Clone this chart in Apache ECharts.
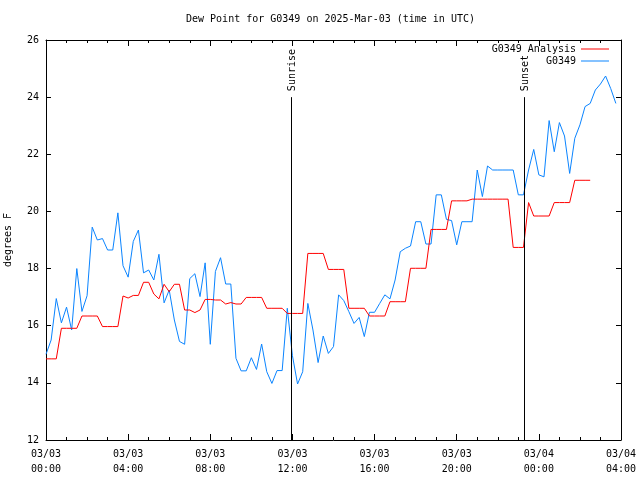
<!DOCTYPE html>
<html>
<head>
<meta charset="utf-8">
<script src="https://cdn.jsdelivr.net/npm/echarts@6/dist/echarts.min.js"></script>
<style>html,body{margin:0;padding:0;background:#fff;}#chart{width:640px;height:480px;}</style>
</head>
<body>
<div id="chart"></div>
<script>
// Time axis: hours since 2025-03-03 00:00 UTC
const xTickLabels = ['03/03\n00:00','03/03\n04:00','03/03\n08:00','03/03\n12:00','03/03\n16:00','03/03\n20:00','03/04\n00:00','03/04\n04:00'];
const sampleStepHours = 0.25;

// G0349 observations (deg F), every 15 minutes from 00:00
const obsValues = [
 15.0,15.5,16.95,16.1,16.65,15.85,18.0,16.5,
 17.05,19.45,19.0,19.05,18.65,18.65,19.95,18.1,
 17.7,18.95,19.35,17.85,17.95,17.6,18.5,16.8,
 17.25,16.2,15.45,15.35,17.65,17.82,17.02,18.2,
 15.35,17.9,18.38,17.46,17.46,14.86,14.42,14.42,
 14.88,14.47,15.36,14.39,13.98,14.43,14.43,16.61,
 14.95,13.96,14.39,16.78,15.85,14.71,15.64,15.03,
 15.27,17.08,16.88,16.49,16.08,16.29,15.62,16.47,
 16.47,16.78,17.08,16.94,17.6,18.59,18.71,18.79,
 19.64,19.64,18.86,18.86,20.58,20.58,19.72,19.68,
 18.83,19.64,19.64,19.64,21.45,20.52,21.59,21.45,
 21.45,21.45,21.45,21.45,20.58,20.58,21.45,22.17,
 21.28,21.21,23.18,22.09,23.11,22.64,21.33,22.56,
 23.03,23.67,23.78,24.25,24.46,24.74,24.3,23.78
];

// G0349 Analysis (deg F), every 15 minutes from 00:00
const analysisValues = [
 14.84,14.84,14.84,15.91,15.91,15.91,15.91,16.34,
 16.34,16.34,16.34,15.97,15.97,15.97,15.97,17.04,
 16.97,17.06,17.06,17.52,17.52,17.11,16.94,17.45,
 17.19,17.45,17.45,16.55,16.55,16.46,16.55,16.92,
 16.92,16.9,16.9,16.76,16.81,16.76,16.76,16.99,
 16.99,16.99,16.99,16.61,16.61,16.61,16.61,16.43,
 16.43,16.43,16.43,18.53,18.53,18.53,18.53,17.97,
 17.97,17.97,17.97,16.61,16.61,16.61,16.61,16.34,
 16.34,16.34,16.34,16.84,16.84,16.84,16.84,18.01,
 18.01,18.01,18.01,19.37,19.37,19.37,19.37,20.37,
 20.37,20.37,20.37,20.43,20.43,20.43,20.43,20.43,
 20.43,20.43,20.43,18.74,18.74,18.74,20.31,19.84,
 19.84,19.84,19.84,20.31,20.31,20.31,20.31,21.09,
 21.09,21.09,21.09
];

// Sun events (hours since 03/03 00:00 UTC)
const sunEventHours = [11.95, 23.29];
const sunEventNames = ['Sunrise', 'Sunset'];
const sunLineTop = 24;

const FONT = 'DejaVu Sans Mono';

function toPairs(vals){ return vals.map((v,i)=>[i*sampleStepHours, v]); }

const chart = echarts.init(document.getElementById('chart'), null, {renderer:'canvas'});

const xCommon = {
  type:'value', min:0, max:28, interval:4,
  axisLine:{show:true, onZero:false, lineStyle:{color:'#000', width:1}},
  axisTick:{show:true, inside:true, length:6, lineStyle:{color:'#000'}},
  minorTick:{show:true, splitNumber:4, length:3, lineStyle:{color:'#000'}},
  splitLine:{show:false}, minorSplitLine:{show:false}
};
const yCommon = {
  type:'value', min:12, max:26, interval:2,
  axisLine:{show:true, onZero:false, lineStyle:{color:'#000', width:1}},
  axisTick:{show:true, inside:true, length:5, lineStyle:{color:'#000'}},
  splitLine:{show:false}
};

const option = {
  animation:false,
  backgroundColor:'#fff',
  title:{
    text:'Dew Point for G0349 on 2025-Mar-03 (time in UTC)',
    left:186, top:14, padding:0,
    textStyle:{fontFamily:FONT, fontSize:10, fontWeight:'normal', color:'#000'}
  },
  grid:{left:46, right:19, top:40, bottom:40, containLabel:false, outerBoundsMode:'none'},
  legend:[
    {data:['G0349 Analysis'], right:31, top:44, padding:0, align:'right', icon:'rect', itemWidth:28, itemHeight:1,
     textStyle:{fontFamily:FONT, fontSize:10, color:'#000'}},
    {data:['G0349'], right:31, top:56, padding:0, align:'right', icon:'rect', itemWidth:28, itemHeight:1,
     textStyle:{fontFamily:FONT, fontSize:10, color:'#000'}}
  ],
  xAxis:[
    Object.assign({}, xCommon, {position:'bottom',
      axisLabel:{show:true, margin:7, fontFamily:FONT, fontSize:10, color:'#000', lineHeight:15,
        formatter:(v)=>xTickLabels[Math.round(v/4)]}}),
    Object.assign({}, xCommon, {position:'top', axisLabel:{show:false}})
  ],
  yAxis:[
    Object.assign({}, yCommon, {position:'left',
      name:'degrees F', nameLocation:'middle', nameGap:33, nameRotate:90,
      nameTextStyle:{fontFamily:FONT, fontSize:10, color:'#000'},
      axisLabel:{show:true, margin:7, fontFamily:FONT, fontSize:10, color:'#000'}}),
    Object.assign({}, yCommon, {position:'right', axisLabel:{show:false}})
  ],
  series:[
    {name:'G0349 Analysis', type:'line', data:toPairs(analysisValues), showSymbol:false, symbol:'none',
     lineStyle:{color:'#ff0000', width:1}, itemStyle:{color:'#ff0000'}, z:3},
    {name:'G0349', type:'line', data:toPairs(obsValues), showSymbol:false, symbol:'none',
     lineStyle:{color:'#0a84ff', width:1}, itemStyle:{color:'#0a84ff'}, z:2},
    {name:'sun', type:'custom', data:sunEventHours.map((h,i)=>[h, i]), z:4, silent:true,
     renderItem:function(params, api){
       const h = api.value(0);
       const idx = api.value(1);
       const p0 = api.coord([h, 12]);
       const p1 = api.coord([h, sunLineTop]);
       const x = Math.round(p0[0]) + 0.5;
       return {type:'group', children:[
         {type:'line', shape:{x1:x, y1:p0[1], x2:x, y2:p1[1]}, style:{stroke:'#000', lineWidth:1}},
         {type:'text', x:x+1, y:p1[1]-6, rotation:Math.PI/2,
          style:{text:sunEventNames[idx], fontFamily:FONT, fontSize:10, fill:'#000', align:'left', verticalAlign:'middle'}}
       ]};
     }}
  ]
};
chart.setOption(option);
</script>
</body>
</html>
